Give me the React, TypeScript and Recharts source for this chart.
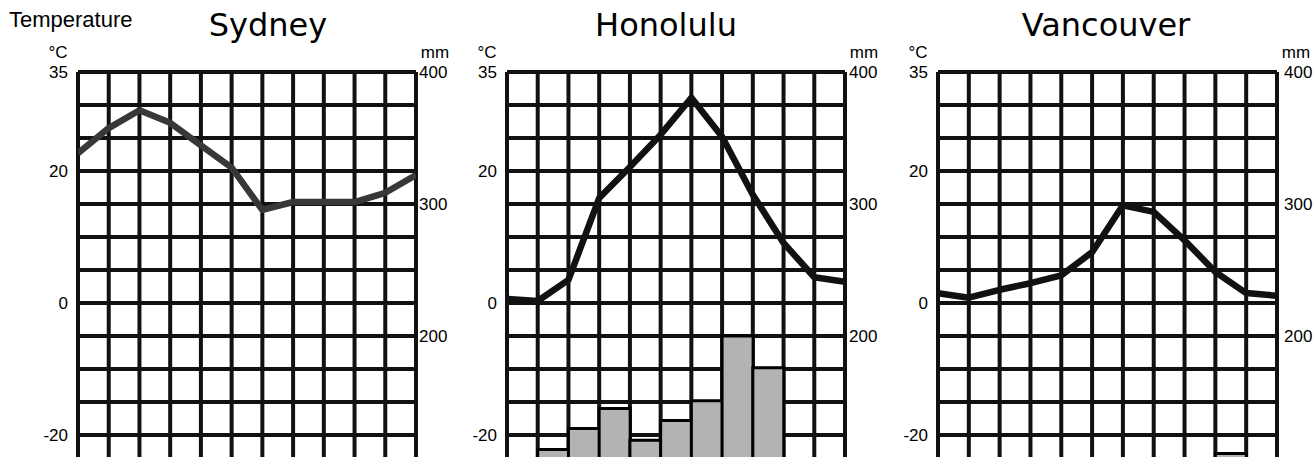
import { ComposedChart, Line, Bar, XAxis, YAxis, CartesianGrid, Label } from "recharts";

// month points sit on the vertical grid lines, rain bars fill the columns between them
const months = [0, 1, 2, 3, 4, 5, 6, 7, 8, 9, 10, 11];
const columns = [0, 1, 2, 3, 4, 5, 6, 7, 8, 9, 10];

const tempTicks = [35, 30, 25, 20, 15, 10, 5, 0, -5, -10, -15, -20, -25, -30, -35, -40, -45];
const tempLabels = [35, 20, 0, -20, -40];
const rainTicks = [0, 100, 200, 300, 400];

const sydneyTemp = [22.7, 26.5, 29.2, 27.3, 23.9, 20.5, 14.1, 15.3, 15.3, 15.3, 16.7, 19.4];
const sydneyRain = [85, 95, 90, 80, 75, 65, 60, 55, 60, 70, 80];

const honoluluTemp = [0.6, 0.3, 3.5, 15.9, 20.6, 25.5, 31.1, 25.2, 16.4, 9.1, 3.9, 3.2];
const honoluluRain = [90, 114, 130, 145, 121, 136, 151, 200, 176, 95, 85];

const vancouverTemp = [1.5, 0.8, 2.0, 3.0, 4.2, 7.7, 14.8, 13.8, 9.5, 4.7, 1.5, 1.1];
const vancouverRain = [60, 55, 50, 45, 40, 35, 30, 40, 70, 111, 95];

const LEFT_W = 40;
const RIGHT_W = 38;
const CHART_H = 620;
const tickFont = { fill: "#000", fontSize: 17, fontFamily: "'Liberation Sans', Arial, sans-serif" };

type PanelProps = {
  title: string;
  titleX: number;
  plotLeft: number;
  plotRight: number;
  temps: number[];
  rain: number[];
  lineColor: string;
  rightGap: number;
};

function ClimatePanel({ title, titleX, plotLeft, plotRight, temps, rain, lineColor, rightGap }: PanelProps) {
  const lineData = months.map((m, i) => ({ m, t: temps[i] }));
  const barData = columns.map((c, i) => ({ c, p: rain[i] }));
  const width = LEFT_W + (plotRight - plotLeft) + RIGHT_W;

  return (
    <>
      <div
        style={{
          position: "absolute",
          left: titleX - 120,
          width: 240,
          top: 9,
          textAlign: "center",
          fontFamily: "'Comic Sans MS', 'DejaVu Sans', sans-serif",
          fontSize: 32,
          lineHeight: "32px",
          color: "#000",
        }}
      >
        {title}
      </div>
      <div style={{ position: "absolute", left: plotLeft - LEFT_W, top: 0 }}>
        <ComposedChart
          width={width}
          height={CHART_H}
          data={barData}
          margin={{ top: 72, right: 0, bottom: 20, left: 0 }}
          barCategoryGap={0}
          barGap={0}
        >
          <CartesianGrid stroke="#111" strokeWidth={4} />
          <XAxis dataKey="m" type="number" domain={[0, 11]} ticks={months} allowDataOverflow hide />
          <XAxis xAxisId="col" dataKey="c" type="category" hide />
          <YAxis
            domain={[-45, 35]}
            ticks={tempTicks}
            interval={0}
            width={LEFT_W}
            axisLine={false}
            tickLine={false}
            tickSize={0}
            tickMargin={10}
            tick={tickFont}
            tickFormatter={(v: number) => (tempLabels.includes(v) ? String(v) : "")}
          >
            <Label value="°C" position="top" offset={14} style={tickFont} />
          </YAxis>
          <YAxis
            yAxisId="mm"
            orientation="right"
            domain={[0, 400]}
            ticks={rainTicks}
            interval={0}
            width={RIGHT_W}
            axisLine={false}
            tickLine={false}
            tickSize={0}
            tickMargin={rightGap}
            tick={tickFont}
          >
            <Label value="mm" position="top" offset={14} style={tickFont} />
          </YAxis>
          <Bar
            xAxisId="col"
            yAxisId="mm"
            dataKey="p"
            fill="#b3b3b3"
            stroke="#000"
            strokeWidth={3}
            isAnimationActive={false}
          />
          <Line
            data={lineData}
            dataKey="t"
            type="linear"
            stroke={lineColor}
            strokeWidth={6.5}
            strokeLinejoin="round"
            dot={false}
            activeDot={false}
            isAnimationActive={false}
          />
        </ComposedChart>
      </div>
    </>
  );
}

export default function App() {
  return (
    <div
      style={{
        position: "absolute",
        left: 0,
        top: 0,
        width: 1314,
        height: 457,
        overflow: "hidden",
        background: "#fff",
      }}
    >
      <div
        style={{
          position: "absolute",
          left: 9,
          top: 8,
          fontFamily: "'Liberation Sans', Arial, sans-serif",
          fontSize: 22,
          lineHeight: "23px",
          color: "#000",
        }}
      >
        Temperature
      </div>
      <ClimatePanel
        title="Sydney"
        titleX={268}
        plotLeft={78}
        plotRight={416}
        temps={sydneyTemp}
        rain={sydneyRain}
        lineColor="#383838"
        rightGap={3}
      />
      <ClimatePanel
        title="Honolulu"
        titleX={666}
        plotLeft={507}
        plotRight={845}
        temps={honoluluTemp}
        rain={honoluluRain}
        lineColor="#111"
        rightGap={4}
      />
      <ClimatePanel
        title="Vancouver"
        titleX={1106}
        plotLeft={938}
        plotRight={1277}
        temps={vancouverTemp}
        rain={vancouverRain}
        lineColor="#111"
        rightGap={7}
      />
    </div>
  );
}
